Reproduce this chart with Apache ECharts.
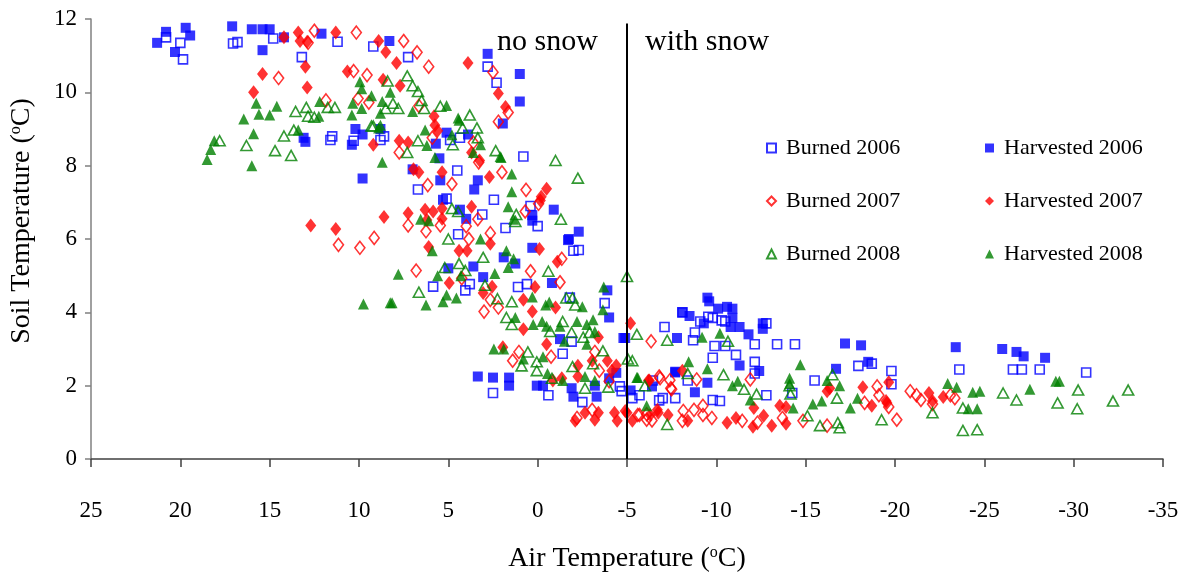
<!DOCTYPE html>
<html>
<head>
<meta charset="utf-8">
<title>Soil vs Air Temperature</title>
<script src="https://cdn.jsdelivr.net/npm/echarts@6/dist/echarts.min.js"></script>
<style>
    html, body { margin: 0; padding: 0; background: #fff; }
    .chart { width: 1189px; height: 578px; }
</style>
</head>
<body>
<div class="chart"></div>
<script>
// data: [air temperature, soil temperature]
var burned2006 = [
    [20.8, 11.5], [20.0, 11.35], [19.85, 10.9], [17.05, 11.33], [16.8, 11.37], [14.8, 11.47], [13.2, 10.96],
    [11.2, 11.38], [9.2, 11.25], [11.5, 8.8], [11.6, 8.7], [10.3, 8.68], [8.8, 8.7], [8.6, 8.8], [7.25, 10.96],
    [2.8, 10.7], [2.3, 10.26], [0.8, 8.25], [4.5, 7.87], [6.7, 7.35], [2.45, 7.07], [5.1, 7.1], [4.45, 6.13],
    [0, 6.35], [0.4, 6.9], [3.1, 6.67], [1.8, 6.3], [4.35, 8.76], [4.9, 8.7], [-2.0, 5.68], [-2.3, 5.7],
    [5.85, 4.7], [4.05, 4.6], [3.8, 4.77], [0.6, 4.77], [1.1, 4.69], [-1.4, 2.87], [-1.9, 3.2], [-1.8, 4.4],
    [-3.75, 4.25], [2.5, 1.8], [-0.6, 1.74], [-2.5, 1.55], [-4.6, 1.98], [-4.7, 1.85], [-5.7, 1.74], [-5.3, 1.66],
    [-7.0, 1.66], [-7.7, 1.66], [-6.8, 1.6], [-7.1, 3.6], [-6.45, 2.14], [-8.1, 4.0], [-8.8, 3.45], [-8.7, 3.24],
    [-9.1, 3.75], [-9.55, 3.88], [-9.8, 3.85], [-10.3, 3.78], [-10.5, 3.75], [-9.9, 3.08], [-10.5, 3.08],
    [-9.8, 2.76], [-11.1, 2.84], [-12.15, 3.13], [-12.15, 2.65], [-12.15, 2.33], [-12.8, 3.7], [-13.4, 3.13],
    [-14.4, 3.13], [-9.8, 1.61], [-10.2, 1.58], [-12.8, 1.74], [-15.5, 2.14], [-14.25, 1.8], [-17.95, 2.54],
    [-18.7, 2.6], [-19.8, 2.4], [-19.8, 2.04], [-8.4, 2.14], [-23.6, 2.44], [-26.6, 2.44], [-27.1, 2.44],
    [-28.1, 2.44], [-30.7, 2.36]
];
var harvested2006 = [
    [21.3, 11.35], [20.8, 11.65], [19.7, 11.76], [19.45, 11.55], [20.3, 11.1], [17.1, 11.8], [16.0, 11.72],
    [15.4, 11.72], [15.0, 11.72], [15.4, 11.15], [14.2, 11.5], [12.1, 11.6], [8.3, 11.4], [2.8, 11.05],
    [1.0, 10.5], [1.0, 9.75], [1.95, 9.15], [10.2, 9.0], [9.8, 8.85], [13.1, 8.76], [13.0, 8.65], [10.4, 8.57],
    [8.8, 9.0], [9.8, 7.65], [5.1, 8.9], [3.9, 8.85], [5.7, 8.6], [5.5, 8.2], [7.0, 7.9], [3.35, 7.6],
    [3.55, 7.35], [5.45, 7.6], [5.3, 7.07], [-0.9, 6.8], [0.3, 6.65], [0.3, 6.5], [-2.3, 6.2], [-1.75, 6.0],
    [4.0, 6.55], [4.35, 6.8], [0.3, 5.76], [-1.7, 5.97], [1.9, 5.5], [1.25, 5.33], [5.0, 5.2], [3.6, 5.25],
    [3.05, 4.96], [-0.8, 4.8], [-3.9, 4.6], [-4.0, 3.86], [-4.8, 3.3], [-1.25, 3.27], [3.35, 2.25], [2.5, 2.22],
    [1.6, 2.22], [1.6, 2.0], [0.05, 2.0], [-0.3, 2.0], [-1.9, 1.93], [-2.0, 1.7], [-3.3, 1.7], [-3.2, 2.0],
    [-4.0, 2.2], [-4.4, 2.35], [-5.2, 1.87], [-7.7, 2.38], [-6.4, 1.98], [-9.5, 4.4], [-9.6, 4.3], [-8.1, 4.0],
    [-8.5, 3.9], [-9.3, 3.7], [-10.1, 4.1], [-10.6, 4.15], [-10.9, 4.1], [-10.9, 3.85], [-10.8, 3.6],
    [-11.3, 3.6], [-11.8, 3.4], [-12.6, 3.7], [-12.6, 3.55], [-7.8, 3.3], [-4.9, 3.3], [-11.3, 2.55],
    [-12.4, 2.4], [-9.5, 2.08], [-8.8, 1.82], [-7.7, 2.36], [-17.2, 3.15], [-18.1, 3.1], [-18.5, 2.65],
    [-16.7, 2.46], [-23.4, 3.05], [-26.0, 3.0], [-26.8, 2.92], [-27.2, 2.8], [-28.4, 2.76]
];
var burned2007 = [
    [12.5, 11.68], [10.15, 11.63], [12.85, 11.35], [10.3, 10.58], [9.55, 10.47], [14.5, 10.39], [11.85, 9.78],
    [10.05, 9.83], [9.45, 9.72], [9.15, 6.03], [11.15, 5.84], [9.95, 5.76], [7.5, 11.4], [6.75, 11.09],
    [6.1, 10.7], [2.5, 10.55], [1.65, 9.45], [2.2, 9.2], [6.65, 9.63], [5.9, 8.76], [7.75, 8.36], [3.6, 8.63],
    [3.3, 8.09], [2.0, 7.82], [4.8, 7.5], [6.15, 7.47], [0.65, 7.34], [-0.05, 6.96], [0.7, 6.75], [7.25, 6.37],
    [5.45, 6.37], [6.25, 6.21], [3.35, 6.54], [4.0, 6.35], [3.85, 6.0], [2.65, 6.16], [6.8, 5.14], [0.4, 5.12],
    [-1.35, 5.46], [-1.25, 4.82], [2.65, 4.34], [2.2, 4.13], [3.0, 4.02], [4.25, 4.93], [1.05, 2.92],
    [1.4, 2.68], [-0.75, 2.79], [-3.2, 2.92], [-3.45, 2.41], [-4.0, 2.12], [-6.35, 3.21], [-6.8, 2.25],
    [-7.45, 1.93], [-5.6, 1.2], [-6.1, 1.22], [-3.05, 1.34], [-2.2, 1.12], [-6.85, 2.2], [-7.4, 2.15],
    [-7.5, 1.9], [-8.9, 2.17], [-11.9, 2.17], [-8.15, 1.31], [-8.75, 1.34], [-9.25, 1.45], [-9.25, 1.2],
    [-9.75, 1.12], [-8.1, 1.04], [-6.1, 1.07], [-5.7, 1.2], [-6.4, 1.05], [-11.45, 1.04], [-12.3, 0.99],
    [-13.7, 1.12], [-14.85, 1.04], [-16.2, 0.91], [-18.3, 1.53], [-19.0, 1.98], [-19.1, 1.74], [-19.65, 1.42],
    [-20.1, 1.07], [-20.85, 1.85], [-21.2, 1.74], [-21.45, 1.61], [-23.1, 1.74], [-23.35, 1.66], [-22.1, 1.5]
];
var harvested2007 = [
    [14.2, 11.5], [13.4, 11.63], [13.3, 11.4], [12.9, 11.38], [11.3, 11.63], [8.9, 11.4], [8.5, 11.1],
    [13.0, 10.7], [15.4, 10.5], [10.65, 10.57], [8.65, 10.34], [12.9, 10.13], [15.9, 10.0], [9.2, 8.57],
    [8.6, 6.6], [12.7, 6.37], [11.3, 6.27], [7.9, 10.8], [3.9, 10.8], [2.2, 9.97], [1.8, 9.6], [7.7, 10.18],
    [5.8, 9.35], [5.75, 9.1], [5.6, 8.95], [7.75, 8.68], [7.25, 8.63], [6.95, 7.9], [6.65, 7.82], [5.35, 7.82],
    [2.7, 7.69], [3.25, 8.14], [3.7, 8.36], [-0.5, 7.37], [-0.2, 7.15], [-0.15, 7.05], [3.7, 6.88],
    [7.25, 6.7], [6.3, 6.8], [5.85, 6.75], [5.35, 6.83], [5.35, 6.55], [6.2, 6.52], [6.1, 5.78], [4.4, 5.68],
    [3.95, 5.68], [2.65, 5.87], [-0.1, 5.73], [-1.1, 5.38], [4.95, 4.8], [2.55, 4.7], [3.05, 4.53], [0.15, 4.69],
    [0.8, 4.34], [0.3, 4.02], [0.8, 3.54], [-1.0, 4.13], [-0.5, 3.13], [1.95, 3.05], [-3.4, 3.32], [-3.05, 2.68],
    [-2.25, 2.54], [-3.9, 2.68], [-4.15, 2.41], [-4.4, 2.55], [-0.85, 2.14], [-2.25, 2.25], [-1.35, 2.2],
    [-5.2, 3.7], [-2.1, 1.04], [-2.65, 1.26], [-3.2, 1.07], [-3.4, 1.26], [-4.3, 1.26], [-4.45, 1.04],
    [-5.0, 1.26], [-5.3, 1.04], [-6.3, 1.2], [-6.75, 1.26], [-7.3, 1.2], [-6.2, 2.14], [-8.1, 2.41],
    [-6.25, 2.14], [-4.9, 1.31], [-6.7, 1.34], [-8.4, 1.04], [-10.6, 0.99], [-11.1, 1.12], [-12.05, 0.88],
    [-12.1, 1.39], [-12.65, 1.18], [-13.1, 0.91], [-13.55, 1.45], [-13.9, 1.42], [-13.9, 0.96], [-16.2, 1.85],
    [-16.35, 1.93], [-18.2, 1.96], [-18.7, 1.45], [-19.55, 1.53], [-19.65, 2.09], [-19.5, 1.58], [-21.9, 1.8],
    [-22.1, 1.58], [-22.7, 1.69]
];
var burned2008 = [
    [17.8, 8.68], [16.3, 8.55], [14.7, 8.41], [13.8, 8.28], [14.2, 8.81], [13.65, 8.97], [13.55, 9.48],
    [12.95, 9.59], [12.85, 9.35], [12.5, 9.32], [11.75, 9.59], [11.35, 9.59], [9.3, 9.08], [8.4, 10.31],
    [7.3, 10.45], [7.0, 10.18], [6.7, 10.02], [6.5, 9.78], [6.35, 9.56], [8.1, 9.7], [7.8, 9.56], [8.5, 9.56],
    [9.2, 9.08], [5.45, 9.62], [3.8, 9.38], [4.2, 9.03], [3.4, 9.03], [6.7, 8.68], [7.3, 8.36], [4.75, 8.57],
    [3.35, 8.76], [2.35, 8.41], [4.8, 6.83], [4.45, 6.75], [-1.0, 8.14], [-2.25, 7.66], [-1.3, 6.54],
    [1.2, 6.67], [1.25, 6.48], [5.0, 6.0], [3.05, 5.5], [4.4, 5.33], [5.2, 5.22], [6.65, 4.55], [4.05, 5.14],
    [2.95, 4.74], [2.25, 4.37], [1.45, 4.29], [1.75, 3.86], [1.45, 3.67], [-0.6, 5.12], [-1.6, 4.39],
    [-1.95, 4.39], [-2.1, 4.2], [-1.4, 3.75], [-0.7, 3.48], [-1.9, 3.45], [-2.55, 3.32], [-2.9, 3.45],
    [-3.65, 2.95], [-5.05, 2.73], [-5.3, 2.68], [-5.0, 4.98], [-5.55, 3.4], [-7.25, 3.24], [0.05, 2.65],
    [0.55, 2.92], [0.9, 2.54], [0.05, 2.41], [-0.8, 2.2], [-1.95, 2.52], [-2.65, 1.93], [-3.1, 2.6],
    [-3.95, 1.96], [-6.0, 2.0], [-7.25, 0.94], [-8.4, 2.33], [-10.4, 2.3], [-10.65, 3.21], [-11.55, 1.9],
    [-12.25, 1.77], [-14.1, 2.0], [-14.15, 1.77], [-15.1, 1.18], [-15.8, 0.91], [-16.5, 2.3], [-16.75, 1.66],
    [-16.8, 0.99], [-16.9, 0.85], [-19.25, 1.07], [-22.1, 1.26], [-23.8, 0.78], [-24.6, 0.8], [-23.8, 1.39],
    [-26.05, 1.8], [-26.8, 1.61], [-29.1, 1.53], [-30.2, 1.37], [-30.25, 1.88], [-32.2, 1.58], [-33.05, 1.88]
];
var harvested2008 = [
    [18.5, 8.17], [18.3, 8.44], [18.1, 8.68], [16.0, 8.0], [15.9, 8.87], [16.45, 9.27], [15.75, 9.7],
    [15.6, 9.4], [15.0, 9.38], [14.6, 9.62], [13.4, 8.97], [12.2, 9.75], [12.25, 9.35], [9.95, 10.29],
    [9.85, 10.1], [9.3, 9.91], [10.35, 9.7], [9.85, 9.56], [10.4, 9.38], [8.7, 9.75], [8.8, 9.43], [8.8, 9.1],
    [8.7, 8.09], [9.75, 4.23], [8.25, 4.26], [8.25, 10.0], [7.0, 9.48], [5.1, 9.64], [8.9, 9.03], [4.4, 9.24],
    [4.8, 8.84], [6.3, 8.97], [6.2, 8.55], [5.75, 8.22], [3.6, 8.36], [3.2, 8.57], [2.1, 8.25], [1.45, 7.77],
    [1.45, 7.29], [1.65, 6.88], [1.35, 6.54], [6.55, 6.54], [6.1, 6.5], [4.45, 9.3], [2.05, 8.22], [3.2, 6.0],
    [7.8, 5.04], [8.15, 4.26], [6.25, 4.2], [5.3, 4.29], [4.55, 4.39], [5.1, 4.47], [5.6, 5.0], [4.3, 5.0],
    [5.9, 5.68], [1.75, 5.68], [1.35, 5.46], [1.65, 5.22], [2.4, 5.06], [1.25, 3.86], [0.3, 4.42],
    [-0.45, 4.2], [-0.65, 4.28], [0.25, 3.67], [-0.25, 3.75], [-0.5, 3.62], [-1.25, 3.62], [-1.5, 3.21],
    [-2.5, 4.15], [-2.2, 3.75], [-2.75, 3.67], [-3.1, 3.8], [-3.2, 3.48], [-2.75, 3.13], [-3.65, 4.07],
    [-3.7, 4.69], [2.45, 3.0], [1.9, 3.0], [0.8, 2.73], [-0.3, 2.79], [-0.55, 2.33], [-1.4, 2.14],
    [-2.65, 2.25], [-3.2, 2.14], [-5.55, 2.22], [-6.1, 1.45], [-9.2, 3.32], [-10.2, 3.43], [-8.45, 2.65],
    [-9.5, 2.46], [-5.6, 2.22], [-10.9, 2.0], [-11.2, 2.12], [-11.9, 1.61], [-14.1, 2.2], [-14.1, 2.05],
    [-14.3, 1.39], [-14.7, 2.57], [-15.4, 1.5], [-15.9, 1.58], [-16.2, 2.14], [-16.9, 2.0], [-17.5, 1.39],
    [-17.9, 1.66], [-22.95, 2.06], [-23.45, 1.96], [-24.35, 1.82], [-24.75, 1.85], [-24.1, 1.37],
    [-24.6, 1.37], [-27.55, 1.9], [-29.0, 2.12], [-29.2, 2.12]
];
var seriesNames = ['Burned 2006', 'Harvested 2006', 'Burned 2007', 'Harvested 2007', 'Burned 2008', 'Harvested 2008'];
var snowLineX = -5;

var myChart = echarts.init(document.querySelector(".chart"));
var serif = "'Liberation Serif', 'Times New Roman', serif";

// open markers: transparent fill, coloured outline
function openMarker(name, data, symbol, size, color) {
    return {
        name: name,
        type: 'scatter',
        data: data,
        symbol: symbol,
        symbolSize: size,
        itemStyle: { color: 'rgba(255,255,255,0)', borderColor: color, borderWidth: 1.6 }
    };
}
function filledMarker(name, data, symbol, size, color) {
    return {
        name: name,
        type: 'scatter',
        data: data,
        symbol: symbol,
        symbolSize: size,
        itemStyle: { color: color }
    };
}

var series = [
    openMarker(seriesNames[0], burned2006, 'rect', 9, '#0000ff'),
    filledMarker(seriesNames[1], harvested2006, 'rect', 10, '#0000ff'),
    openMarker(seriesNames[2], burned2007, 'diamond', [10, 13], '#ff0000'),
    filledMarker(seriesNames[3], harvested2007, 'diamond', [11, 14], '#ff0000'),
    openMarker(seriesNames[4], burned2008, 'triangle', [11, 10], '#008000'),
    filledMarker(seriesNames[5], harvested2008, 'triangle', [11, 11], '#008000')
];
// snow / no snow divider
series[0].markLine = {
    silent: true,
    symbol: 'none',
    label: { show: false },
    lineStyle: { color: '#000', type: 'solid', width: 2 },
    data: [[{ coord: [snowLineX, 11.88] }, { coord: [snowLineX, 0] }]]
};

var legendText = { fontFamily: serif, fontSize: 22, color: '#000', padding: [0, 0, 0, 5] };

var option = {
    animation: false,
    backgroundColor: '#fff',
    grid: { left: 91, right: 26, top: 19, bottom: 111, containLabel: false },
    legend: [{
        data: [seriesNames[0], seriesNames[2], seriesNames[4]],
        orient: 'vertical',
        left: 761, top: 132,
        itemWidth: 9, itemHeight: 9, itemGap: 31,
        textStyle: legendText
    }, {
        data: [seriesNames[1], seriesNames[3], seriesNames[5]],
        orient: 'vertical',
        left: 980, top: 132,
        itemWidth: 9, itemHeight: 9, itemGap: 31,
        textStyle: legendText
    }],
    xAxis: {
        type: 'value',
        inverse: true,
        min: -35, max: 25, interval: 5,
        name: 'Air Temperature ({sup|o}C)',
        nameLocation: 'middle',
        nameGap: 86,
        nameTextStyle: {
            fontFamily: serif, fontSize: 28, color: '#000',
            rich: { sup: { fontFamily: serif, fontSize: 16, color: '#000', verticalAlign: 'top', padding: [0, 0, 12, 0] } }
        },
        axisLine: { show: true, onZero: false, lineStyle: { color: '#404040', width: 1.5 } },
        axisTick: { show: true, length: 8, lineStyle: { color: '#404040', width: 1.5 } },
        axisLabel: { margin: 40, fontFamily: serif, fontSize: 23, color: '#000' },
        splitLine: { show: false }
    },
    yAxis: {
        type: 'value',
        min: 0, max: 12, interval: 2,
        name: 'Soil Temperature ({sup|o}C)',
        nameLocation: 'middle',
        nameRotate: 90,
        nameGap: 55,
        nameTextStyle: {
            fontFamily: serif, fontSize: 28, color: '#000',
            padding: [0, 0, 0, 36],
            rich: { sup: { fontFamily: serif, fontSize: 16, color: '#000', verticalAlign: 'top', padding: [0, 0, 12, 0] } }
        },
        axisLine: { show: true, onZero: false, lineStyle: { color: '#808080', width: 1.5 } },
        axisTick: { show: true, length: 6, lineStyle: { color: '#808080', width: 1.5 } },
        axisLabel: { margin: 14, fontFamily: serif, fontSize: 23, color: '#000' },
        splitLine: { show: false }
    },
    graphic: [
        { type: 'text', left: 497, top: 27, style: { text: 'no snow', font: '30px ' + serif, fill: '#000' } },
        { type: 'text', left: 645, top: 27, style: { text: 'with snow', font: '30px ' + serif, fill: '#000' } }
    ],
    series: series
};
myChart.setOption(option);
window.addEventListener("resize", function () {
    myChart.resize();
});
</script>
</body>
</html>
